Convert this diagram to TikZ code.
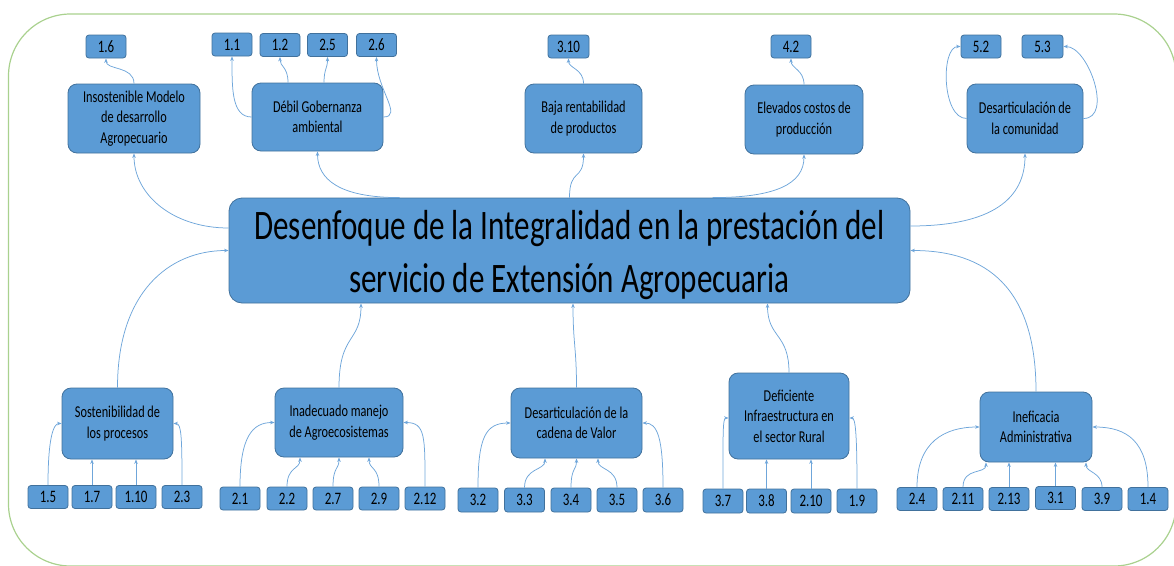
\documentclass[tikz,border=0pt]{standalone}
\usepackage{fontspec}
\setmainfont{Carlito}[FakeStretch=0.74]
\usetikzlibrary{arrows.meta,calc}
\definecolor{boxblue}{HTML}{5B9BD5}
\definecolor{boxborder}{HTML}{41719C}
\definecolor{linkblue}{HTML}{6FA6DA}
\definecolor{framegreen}{HTML}{A9D18E}
\tikzset{
  cbox/.style={draw=boxborder, line width=0.8pt, fill=boxblue, rounded corners=9pt, inner sep=0pt, align=center, text=black, font=\fontsize{16.6}{20.5}\selectfont},
  num/.style={draw=boxborder, line width=0.8pt, fill=boxblue, rounded corners=3pt, minimum width=40, minimum height=23, inner sep=0pt, text=black, font=\fontsize{17.5}{20}\selectfont},
  mainbox/.style={draw=boxborder, line width=0.8pt, fill=boxblue, rounded corners=13pt, inner sep=0pt},
  maintext/.style={align=center, inner sep=0pt, text=black, font=\fontsize{42}{53}\selectfont},
  conn/.style={draw=linkblue, line width=0.75pt, -{Stealth[length=4.5pt,width=3.5pt]}},
  framec/.style={draw=framegreen, line width=1.2pt, rounded corners=62pt}
}
\begin{document}
\begin{tikzpicture}[x=1pt,y=-1pt]
\useasboundingbox (0,0) rectangle (1174,565);
\draw[framec] (8.5,14) rectangle (1176,566);

% main box
\node[mainbox, minimum width=681, minimum height=105] (main) at (569.5,250.5) {};
\node[maintext] (mtext) at ($(main.center)+(0,5)$) {Desenfoque de la Integralidad en la prestación del\\servicio de Extensión Agropecuaria};

% top boxes
\node[cbox, minimum width=132, minimum height=69] (ins) at (134,118.5) {Insostenible Modelo\\de desarrollo\\Agropecuario};
\node[cbox, minimum width=131, minimum height=68] (deb) at (317.5,117) {Débil Gobernanza\\ambiental};
\node[cbox, minimum width=117, minimum height=69] (baja) at (583.5,118.5) {Baja rentabilidad\\de productos};
\node[cbox, minimum width=118, minimum height=69] (elev) at (804,119.5) {Elevados costos de\\producción};
\node[cbox, minimum width=116, minimum height=69] (desc) at (1025,118.5) {Desarticulación de\\la comunidad};

\node[num] (n16) at (106,46.5) {1.6};
\node[num] (n11) at (232,44.5) {1.1};
\node[num] (n12) at (280,45) {1.2};
\node[num] (n25) at (327.5,45) {2.5};
\node[num] (n26) at (376.5,45) {2.6};
\node[num, minimum width=41] (n310) at (568.5,46.5) {3.10};
\node[num] (n42) at (791,46.5) {4.2};
\node[num] (n52) at (981,46.5) {5.2};
\node[num, minimum width=41] (n53) at (1042.5,46.5) {5.3};

% bottom boxes
\node[cbox, minimum width=111, minimum height=71] (sost) at (117.5,423.5) {Sostenibilidad de\\los procesos};
\node[cbox, minimum width=128, minimum height=69] (inad) at (339,422.5) {Inadecuado manejo\\de Agroecosistemas};
\node[cbox, minimum width=131, minimum height=70] (cad) at (576.5,423) {Desarticulación de la\\cadena de Valor};
\node[cbox, minimum width=120, minimum height=86] (def) at (789,416) {Deficiente\\Infraestructura en\\el sector Rural};
\node[cbox, minimum width=112, minimum height=70] (inef) at (1036,427) {Ineficacia\\Administrativa};

\node[num] (n15) at (48,497) {1.5};
\node[num] (n17) at (92,497) {1.7};
\node[num] (n110) at (136,497) {1.10};
\node[num] (n23) at (182,497) {2.3};

\node[num] (n21) at (240,498.5) {2.1};
\node[num] (n22) at (287,498.5) {2.2};
\node[num] (n27) at (333,498.5) {2.7};
\node[num] (n29) at (379,498.5) {2.9};
\node[num] (n212) at (425,498.5) {2.12};

\node[num, minimum height=24] (n32) at (478,500) {3.2};
\node[num, minimum height=24] (n33) at (524.5,500) {3.3};
\node[num, minimum height=24] (n34) at (571,500) {3.4};
\node[num, minimum height=24] (n35) at (617,500) {3.5};
\node[num, minimum height=24] (n36) at (663,500) {3.6};

\node[num, minimum height=24] (n37) at (723,501) {3.7};
\node[num, minimum height=24] (n38) at (766.5,501) {3.8};
\node[num, minimum height=24] (n210) at (811,501) {2.10};
\node[num, minimum height=24] (n19) at (857,501) {1.9};

\node[num] (n24) at (917,499) {2.4};
\node[num] (n211) at (963,499) {2.11};
\node[num] (n213) at (1009,499) {2.13};
\node[num] (n31) at (1055.5,498) {3.1};
\node[num] (n39) at (1102,499) {3.9};
\node[num] (n14) at (1148,499) {1.4};

% main -> top boxes
\draw[conn] ($(main.west)+(0,-22.5)$) .. controls +(-55,0) and +(0,42) .. (ins.south);
\draw[conn] ($(main.north)+(-170,0)$) .. controls +(-60,0) and +(0,28) .. (deb.south);
\draw[conn] (main.north) .. controls +(0,-30) and +(0,28) .. (baja.south);
\draw[conn] ($(main.north)+(143,0)$) .. controls +(62,0) and +(0,30) .. (elev.south);
\draw[conn] ($(main.east)+(0,-24.5)$) .. controls +(82,0) and +(0,45) .. (desc.south);

% top boxes -> numbers
\draw[conn] (ins.north) .. controls +(0,-18) and +(0,12) .. (n16.south);
\draw[conn] (deb.west) .. controls +(-20,0) and +(0,32) .. (n11.south);
\draw[conn] ($(deb.north)+(-29.5,0)$) .. controls +(0,-16) and +(0,10) .. (n12.south);
\draw[conn] ($(deb.north)+(6.5,0)$) .. controls +(0,-14) and +(0,12) .. (n25.south);
\draw[conn] (deb.east) .. controls +(20,0) and +(0,32) .. (n26.south);
\draw[conn] (baja.north) .. controls +(0,-15) and +(0,10) .. (n310.south);
\draw[conn] (elev.north) .. controls +(0,-15) and +(0,10) .. (n42.south);
\draw[conn] (desc.west) .. controls +(-25,0) and +(-20,0) .. (n52.west);
\draw[conn] (desc.east) .. controls +(30,0) and +(25,0) .. (n53.east);

% bottom boxes -> main
\draw[conn] (sost.north) .. controls +(0,-95) and +(-60,0) .. (main.west);
\draw[conn] (inad.north) .. controls +(0,-55) and +(0,40) .. ($(main.south)+(-208.5,0)$);
\draw[conn] (cad.north) .. controls +(0,-40) and +(0,40) .. ($(main.south)+(3.5,0)$);
\draw[conn] (def.north) .. controls +(0,-40) and +(0,35) .. ($(main.south)+(198,0)$);
\draw[conn] (inef.north) .. controls +(0,-105) and +(75,0) .. (main.east);

% numbers -> sost
\draw[conn] (n15.north) .. controls +(0,-48) and +(-8,0) .. (sost.west);
\draw[conn] (n17.north) -- (n17.north |- sost.south);
\draw[conn] (n110.north) -- (n110.north |- sost.south);
\draw[conn] (n23.north) .. controls +(0,-48) and +(8,0) .. (sost.east);

% numbers -> inad
\draw[conn] (n21.north) .. controls +(0,-50) and +(-22,0) .. (inad.west);
\draw[conn] (n22.north) .. controls +(0,-20) and +(0,12) .. ($(inad.south)+(-39,0)$);
\draw[conn] (n27.north) .. controls +(0,-20) and +(0,12) .. (inad.south);
\draw[conn] (n29.north) .. controls +(0,-20) and +(0,12) .. ($(inad.south)+(30,0)$);
\draw[conn] (n212.north) .. controls +(0,-50) and +(22,0) .. (inad.east);

% numbers -> cad
\draw[conn] (n32.north) .. controls +(0,-50) and +(-25,0) .. (cad.west);
\draw[conn] (n33.north) .. controls +(0,-20) and +(0,12) .. ($(cad.south)+(-31.5,0)$);
\draw[conn] (n34.north) .. controls +(0,-20) and +(0,12) .. (cad.south);
\draw[conn] (n35.north) .. controls +(0,-20) and +(0,12) .. ($(cad.south)+(21.5,0)$);
\draw[conn] (n36.north) .. controls +(0,-50) and +(15,0) .. (cad.east);

% numbers -> def
\draw[conn] (n37.north) .. controls +(0,-55) and +(-6,0) .. ($(def.west)+(0,2)$);
\draw[conn] (n38.north) -- (n38.north |- def.south);
\draw[conn] (n210.north) -- (n210.north |- def.south);
\draw[conn] (n19.north) .. controls +(0,-55) and +(6,0) .. ($(def.east)+(0,2)$);

% numbers -> inef
\draw[conn] (n24.north) .. controls +(0,-45) and +(-35,0) .. (inef.west);
\draw[conn] (n211.north) .. controls +(0,-20) and +(0,12) .. ($(inef.south)+(-50,0)$);
\draw[conn] (n213.north) -- (n213.north |- inef.south);
\draw[conn] (n31.north) -- (n31.north |- inef.south);
\draw[conn] (n39.north) .. controls +(0,-15) and +(0,10) .. ($(inef.south)+(50,0)$);
\draw[conn] (n14.north) .. controls +(0,-45) and +(35,0) .. (inef.east);
\end{tikzpicture}
\end{document}
